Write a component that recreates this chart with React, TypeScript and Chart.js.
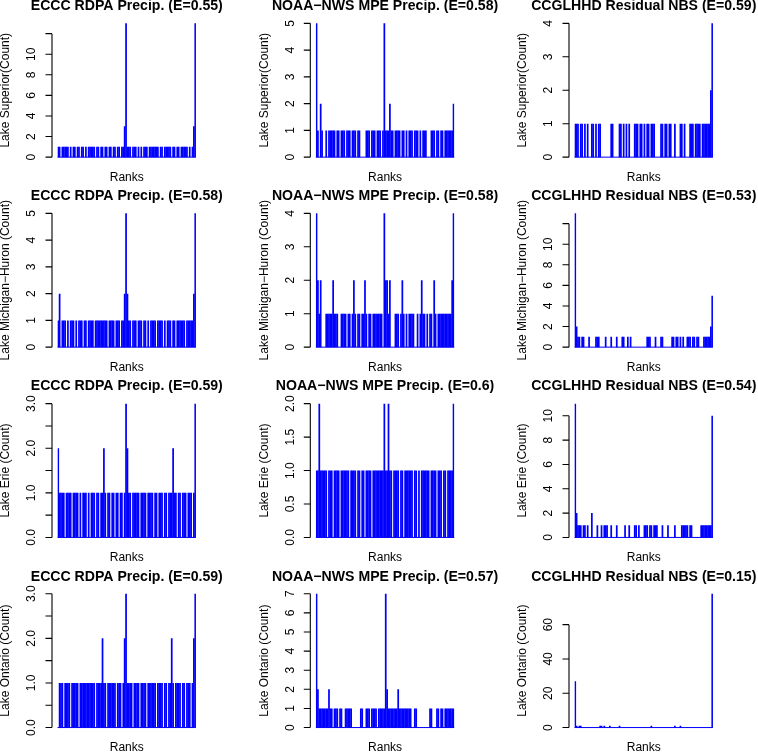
import React, { useEffect, useRef } from "react";
import { Chart, registerables } from "chart.js";

Chart.register(...registerables);

// ---------- data ----------
const ranks: string[] = Array.from({ length: 100 }, (_, i) => String(i + 1));

const titlesEccc = ["ECCC RDPA Precip. (E=0.55)", "ECCC RDPA Precip. (E=0.58)", "ECCC RDPA Precip. (E=0.59)", "ECCC RDPA Precip. (E=0.59)"];
const titlesNoaa = ["NOAA−NWS MPE Precip. (E=0.58)", "NOAA−NWS MPE Precip. (E=0.58)", "NOAA−NWS MPE Precip. (E=0.6)", "NOAA−NWS MPE Precip. (E=0.57)"];
const titlesCcg = ["CCGLHHD Residual NBS (E=0.59)", "CCGLHHD Residual NBS (E=0.53)", "CCGLHHD Residual NBS (E=0.54)", "CCGLHHD Residual NBS (E=0.15)"];
const lakeLabels = ["Lake Superior(Count)", "Lake Michigan−Huron (Count)", "Lake Erie (Count)", "Lake Ontario (Count)"];
const xLabel = "Ranks";

const superiorEccc = [
  1,1,0,1,1,1,1,1,0,1, 0,1,1,0,1,1,0,1,1,0, 1,0,1,1,1,1,1,0,1,1, 0,1,1,0,1,1,0,1,1,0,
  1,1,0,1,1,0,1,1,3,13, 1,1,1,0,1,1,1,0,1,0, 1,0,1,1,1,0,1,1,1,1, 1,1,1,0,1,1,0,1,1,1,
  1,1,0,1,1,0,1,1,0,1, 1,1,1,1,0,1,0,1,3,13,
];
const superiorNoaa = [
  5,1,0,2,1,0,0,1,0,1, 1,1,1,1,0,1,1,0,1,1, 1,0,1,1,1,0,1,1,1,0, 1,1,0,0,0,0,1,1,1,0,
  1,1,1,0,1,1,1,0,1,5, 1,1,1,2,1,1,0,1,1,1, 1,0,1,1,0,1,0,1,1,1, 0,1,1,1,0,1,0,1,1,1,
  0,0,0,1,1,1,0,1,1,0, 1,1,0,1,1,1,1,1,1,2,
];
const superiorCcg = [
  1,1,1,0,1,1,0,1,0,1, 0,0,1,1,0,1,0,1,1,0, 0,0,0,0,0,0,1,1,0,0, 0,0,1,1,0,1,0,1,0,1,
  0,0,0,1,1,1,0,1,1,0, 1,0,1,1,0,1,1,1,0,0, 0,0,1,1,0,1,1,0,1,1, 0,0,1,0,0,0,1,1,0,1,
  0,0,0,1,1,1,0,1,1,1, 1,0,1,1,1,1,1,1,2,4,
];
const michiganEccc = [
  1,2,0,1,1,1,0,1,0,1, 1,1,0,1,0,1,1,1,0,1, 1,0,1,1,1,1,0,1,1,1, 1,1,1,1,1,1,0,1,1,1,
  1,0,1,1,1,0,1,1,2,5, 2,1,1,0,1,1,1,0,1,1, 1,0,1,1,0,1,0,1,1,1, 1,0,1,1,1,1,0,1,0,1,
  1,1,0,1,1,0,1,1,1,1, 1,1,0,1,1,1,1,1,2,5,
];
const michiganNoaa = [
  4,2,1,2,0,0,0,1,1,1, 1,1,2,1,1,1,0,0,1,1, 1,1,0,1,1,0,1,2,1,0, 1,1,0,1,1,2,1,0,1,1,
  0,1,1,1,1,1,1,1,0,4, 2,2,1,2,0,0,0,1,1,1, 0,1,2,1,0,1,0,1,1,1, 1,0,0,1,0,1,2,1,1,0,
  1,0,1,1,0,2,1,0,1,1, 1,1,1,1,1,1,1,1,2,4,
];
const michiganCcg = [
  13,2,1,1,0,1,1,0,0,0, 1,0,0,0,0,1,1,1,0,0, 0,0,1,0,0,0,1,0,0,0, 1,0,0,0,1,1,0,0,1,0,
  1,0,0,0,0,0,0,0,0,0, 0,0,1,1,1,0,0,0,1,0, 0,0,1,1,0,0,0,0,0,0, 1,1,0,1,1,0,1,0,1,0,
  0,1,1,1,0,1,1,0,1,1, 0,0,0,1,1,1,1,1,2,5,
];
const erieEccc = [
  2,1,1,1,1,0,1,1,1,1, 0,1,1,1,1,0,1,0,1,1, 1,0,1,0,1,1,1,0,1,1, 0,1,1,2,1,0,1,1,0,1,
  1,0,1,1,0,1,1,0,1,3, 2,1,1,0,1,1,1,1,1,0, 1,1,1,1,0,1,1,1,1,0, 1,1,0,1,1,1,0,1,1,0,
  1,1,1,2,1,1,0,1,1,0, 1,1,1,0,1,1,1,0,1,3,
];
const erieNoaa = [
  1,1,2,1,1,1,1,1,0,1, 1,1,0,1,1,1,1,0,1,1, 1,1,1,1,0,1,1,1,1,0, 1,1,0,1,1,0,1,1,1,1,
  0,1,1,1,1,1,1,1,1,2, 1,1,2,1,1,0,1,1,1,1, 0,1,1,0,1,1,1,1,1,1, 0,1,1,0,1,0,1,1,1,1,
  1,1,0,1,1,1,1,0,1,1, 1,0,1,1,0,1,1,1,1,2,
];
const erieCcg = [
  11,2,1,1,1,0,1,1,0,1, 0,0,2,0,0,0,1,0,0,1, 0,1,1,1,0,0,1,0,0,0, 1,0,0,0,0,0,1,0,0,1,
  0,0,0,1,1,0,1,0,0,0, 1,1,1,0,1,1,0,1,1,1, 0,0,0,1,0,0,0,1,0,0, 0,0,1,0,0,0,0,1,1,1,
  1,1,0,1,1,0,0,0,0,0, 0,1,1,1,1,1,1,1,1,10,
];
const ontarioEccc = [
  0,1,1,1,0,1,1,1,1,0, 1,1,1,1,1,0,1,1,1,1, 1,1,1,1,1,1,1,0,1,1, 1,1,2,1,1,0,1,1,1,1,
  1,1,0,1,1,1,0,1,2,3, 1,1,1,1,0,1,1,1,1,0, 1,1,1,1,0,1,1,1,1,1, 1,0,1,1,1,1,0,1,1,0,
  1,1,2,1,0,1,1,1,1,0, 1,1,0,1,1,1,0,1,2,3,
];
const ontarioNoaa = [
  7,2,1,1,1,1,1,1,1,2, 1,1,0,1,1,1,0,1,1,0, 0,1,1,1,1,1,0,0,0,0, 0,0,1,1,0,0,1,1,1,0,
  1,1,1,1,0,1,1,1,1,1, 7,2,1,1,1,1,1,1,1,2, 1,1,1,1,1,1,1,1,1,0, 0,1,1,0,0,0,0,0,0,0,
  0,0,1,1,0,0,0,1,1,0, 1,1,0,1,1,1,1,1,1,1,
];
const ontarioCcg = [
  27,1,0,1,1,0,0,0,0,0, 0,0,0,0,0,0,0,0,1,1, 0,1,0,0,0,1,0,0,0,0, 0,0,1,0,0,0,0,0,0,0,
  0,0,0,0,0,0,0,0,0,0, 0,0,0,0,0,1,0,0,0,0, 0,0,0,0,0,0,0,0,0,0, 0,0,1,0,0,0,1,0,0,0,
  0,0,0,0,0,0,0,0,0,0, 0,0,0,0,0,0,0,0,0,78,
];

// y-axis ticks and their labels
const ticksStep2To12 = [0, 2, 4, 6, 8, 10, 12];
const labelsStep2To12 = ["0", "2", "4", "6", "8", "10", ""];
const ticksStep2To10 = [0, 2, 4, 6, 8, 10];
const labelsStep2To10 = ["0", "2", "4", "6", "8", "10"];
const ticks0To5 = [0, 1, 2, 3, 4, 5];
const labels0To5 = ["0", "1", "2", "3", "4", "5"];
const ticks0To4 = [0, 1, 2, 3, 4];
const labels0To4 = ["0", "1", "2", "3", "4"];
const ticks0To7 = [0, 1, 2, 3, 4, 5, 6, 7];
const labels0To7 = ["0", "1", "2", "3", "4", "5", "6", "7"];
const ticksHalfTo3 = [0, 0.5, 1, 1.5, 2, 2.5, 3];
const labelsHalfTo3 = ["0.0", "", "1.0", "", "2.0", "", "3.0"];
const ticksHalfTo2 = [0, 0.5, 1, 1.5, 2];
const labelsHalfTo2 = ["0.0", "0.5", "1.0", "1.5", "2.0"];
const ticksStep20 = [0, 20, 40, 60];
const labelsStep20 = ["0", "20", "40", "60"];

// ---------- layout ----------
const COL_LEFT = [52, 310.3, 569];
const ROW_TOP = [18, 208, 398.3, 588.4];
const PLOT_W = 149.5;
const PLOT_H = 144.5;
const X_EXT = PLOT_W * (0.04 / 1.08); // R's 4% axis extension on each side
const CANVAS_W = 252;
const CANVAS_H = 188;
const FONT = '"Liberation Sans", Arial, Helvetica, sans-serif';

type PanelDef = {
  row: number;
  col: number;
  title: string;
  ylabel: string;
  values: number[];
  ticks: number[];
  tickLabels: string[];
};

const panels: PanelDef[] = [
  { row: 0, col: 0, title: titlesEccc[0], ylabel: lakeLabels[0], values: superiorEccc, ticks: ticksStep2To12, tickLabels: labelsStep2To12 },
  { row: 0, col: 1, title: titlesNoaa[0], ylabel: lakeLabels[0], values: superiorNoaa, ticks: ticks0To5, tickLabels: labels0To5 },
  { row: 0, col: 2, title: titlesCcg[0], ylabel: lakeLabels[0], values: superiorCcg, ticks: ticks0To4, tickLabels: labels0To4 },
  { row: 1, col: 0, title: titlesEccc[1], ylabel: lakeLabels[1], values: michiganEccc, ticks: ticks0To5, tickLabels: labels0To5 },
  { row: 1, col: 1, title: titlesNoaa[1], ylabel: lakeLabels[1], values: michiganNoaa, ticks: ticks0To4, tickLabels: labels0To4 },
  { row: 1, col: 2, title: titlesCcg[1], ylabel: lakeLabels[1], values: michiganCcg, ticks: ticksStep2To12, tickLabels: labelsStep2To12 },
  { row: 2, col: 0, title: titlesEccc[2], ylabel: lakeLabels[2], values: erieEccc, ticks: ticksHalfTo3, tickLabels: labelsHalfTo3 },
  { row: 2, col: 1, title: titlesNoaa[2], ylabel: lakeLabels[2], values: erieNoaa, ticks: ticksHalfTo2, tickLabels: labelsHalfTo2 },
  { row: 2, col: 2, title: titlesCcg[2], ylabel: lakeLabels[2], values: erieCcg, ticks: ticksStep2To10, tickLabels: labelsStep2To10 },
  { row: 3, col: 0, title: titlesEccc[3], ylabel: lakeLabels[3], values: ontarioEccc, ticks: ticksHalfTo3, tickLabels: labelsHalfTo3 },
  { row: 3, col: 1, title: titlesNoaa[3], ylabel: lakeLabels[3], values: ontarioNoaa, ticks: ticks0To7, tickLabels: labels0To7 },
  { row: 3, col: 2, title: titlesCcg[3], ylabel: lakeLabels[3], values: ontarioCcg, ticks: ticksStep20, tickLabels: labelsStep20 },
];

function Panel({ p }: { p: PanelDef }) {
  const ref = useRef<HTMLCanvasElement | null>(null);
  const left = Math.floor(COL_LEFT[p.col] - 52);
  const top = Math.floor(ROW_TOP[p.row] - 18);
  const regionLeft = COL_LEFT[p.col] - left;
  const regionTop = ROW_TOP[p.row] - top;

  useEffect(() => {
    if (!ref.current) return;
    const maxV = Math.max(...p.values);
    const rPlot = {
      id: "rplot" + p.row + p.col,
      beforeDatasetsDraw(chart: any) {
        const { ctx, chartArea: a, scales } = chart;
        const y0 = scales.y.getPixelForValue(0);
        ctx.save();
        ctx.strokeStyle = "#0000ff";
        ctx.lineWidth = 1;
        ctx.beginPath();
        ctx.moveTo(a.left, y0);
        ctx.lineTo(a.right, y0);
        ctx.stroke();
        ctx.restore();
      },
      afterDraw(chart: any) {
        const { ctx, chartArea: a, scales } = chart;
        const y = scales.y;
        const x0 = a.left - X_EXT;
        ctx.save();
        ctx.strokeStyle = "#000";
        ctx.fillStyle = "#000";
        ctx.lineWidth = 1.1;
        ctx.beginPath();
        ctx.moveTo(x0, y.getPixelForValue(p.ticks[0]));
        ctx.lineTo(x0, y.getPixelForValue(p.ticks[p.ticks.length - 1]));
        p.ticks.forEach((t) => {
          const py = y.getPixelForValue(t);
          ctx.moveTo(x0, py);
          ctx.lineTo(x0 - 6.5, py);
        });
        ctx.stroke();
        ctx.font = "12px " + FONT;
        ctx.textAlign = "center";
        ctx.textBaseline = "middle";
        p.ticks.forEach((t, i) => {
          const lbl = p.tickLabels[i];
          if (!lbl) return;
          const py = y.getPixelForValue(t);
          ctx.save();
          ctx.translate(x0 - 20, py);
          ctx.rotate(-Math.PI / 2);
          ctx.fillText(lbl, 0, 0);
          ctx.restore();
        });
        // y label
        ctx.save();
        ctx.translate(x0 - 46, (a.top + a.bottom) / 2);
        ctx.rotate(-Math.PI / 2);
        ctx.fillText(p.ylabel, 0, 0);
        ctx.restore();
        // x label
        const cx = (a.left + a.right) / 2;
        ctx.fillText(xLabel, cx, a.bottom + 15);
        // title
        ctx.font = "bold 14.1px " + FONT;
        ctx.fillText(p.title, cx, a.top - 11.7);
        ctx.restore();
      },
    };

    const chart = new Chart(ref.current, {
      type: "bar",
      data: {
        labels: ranks,
        datasets: [
          {
            data: p.values,
            backgroundColor: "#0000ff",
            borderWidth: 0,
            barPercentage: 1.25,
            categoryPercentage: 1,
          } as any,
        ],
      },
      options: {
        animation: false,
        responsive: false,
        events: [],
        layout: {
          padding: {
            left: regionLeft + X_EXT,
            top: regionTop,
            right: CANVAS_W - regionLeft - PLOT_W + X_EXT,
            bottom: CANVAS_H - regionTop - PLOT_H,
          },
        },
        plugins: {
          legend: { display: false },
          tooltip: { enabled: false },
          title: { display: false },
        },
        scales: {
          x: { type: "category", display: false, offset: true },
          y: { type: "linear", display: false, min: -0.04 * maxV, max: 1.04 * maxV },
        },
      },
      plugins: [rPlot],
    });
    return () => chart.destroy();
  }, [p]);

  return (
    <canvas
      ref={ref}
      width={CANVAS_W}
      height={CANVAS_H}
      style={{ position: "absolute", left, top, width: CANVAS_W, height: CANVAS_H }}
    />
  );
}

export default function App() {
  return (
    <div
      style={{
        position: "absolute",
        left: 0,
        top: 0,
        width: 758,
        height: 753,
        overflow: "hidden",
        background: "#fff",
      }}
    >
      {panels.map((p) => (
        <Panel key={p.row + "-" + p.col} p={p} />
      ))}
    </div>
  );
}
